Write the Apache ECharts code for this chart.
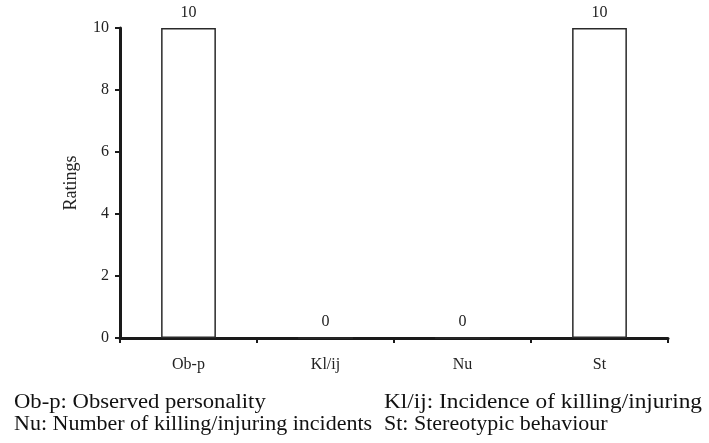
<!DOCTYPE html>
<html><head><meta charset="utf-8">
<script src="https://cdn.jsdelivr.net/npm/echarts@6/dist/echarts.min.js"></script>
<style>html,body{margin:0;padding:0;background:#fff}#c{width:709px;height:443px}</style>
</head><body><div id="c"></div>
<script>
var categories = ['Ob-p', 'Kl/ij', 'Nu', 'St'];
var ratings = [10, 0, 0, 10];
var yTicks = [0, 2, 4, 6, 8, 10];
var notes = [
  ['Ob-p: Observed personality', 'Kl/ij: Incidence of killing/injuring'],
  ['Nu: Number of killing/injuring incidents', 'St: Stereotypic behaviour']
];
var F = '"Liberation Serif", "Times New Roman", serif';
var chart = echarts.init(document.getElementById('c'));
chart.setOption({
  animation: false,
  backgroundColor: '#fff',
  grid: {left: 120, right: 41, top: 28, bottom: 105},
  xAxis: {
    type: 'category', data: categories,
    axisLine: {lineStyle: {color: '#1a1a1a', width: 3}},
    axisTick: {show: true, length: 5, lineStyle: {color: '#1a1a1a', width: 2}},
    axisLabel: {fontFamily: F, fontSize: 16, color: '#222', margin: 19}
  },
  yAxis: {
    type: 'value', min: yTicks[0], max: yTicks[yTicks.length-1], interval: 2,
    name: 'Ratings', nameLocation: 'middle', nameGap: 40, nameRotate: 90,
    nameTextStyle: {fontFamily: F, fontSize: 18, color: '#222'},
    axisLine: {show: true, lineStyle: {color: '#1a1a1a', width: 3}},
    axisTick: {show: true, length: 5, lineStyle: {color: '#1a1a1a', width: 2}},
    axisLabel: {fontFamily: F, fontSize: 16, color: '#222', margin: 11},
    splitLine: {show: false}
  },
  series: [{
    type: 'bar', data: ratings, barWidth: '40%',
    itemStyle: {color: '#fff', borderColor: '#2a2a2a', borderWidth: 1.5},
    label: {show: true, position: 'top', distance: 7, fontFamily: F, fontSize: 16, color: '#222'}
  }],
  graphic: [
    {type: 'text', x: 14, y: 413, scaleX: 1.03, style: {text: notes[0][0], font: '22px ' + F, fill: '#111', verticalAlign: 'bottom'}},
    {type: 'text', x: 384, y: 413, scaleX: 1.06, style: {text: notes[0][1], font: '22px ' + F, fill: '#111', verticalAlign: 'bottom'}},
    {type: 'text', x: 14, y: 435, style: {text: notes[1][0], font: '22px ' + F, fill: '#111', verticalAlign: 'bottom'}},
    {type: 'text', x: 384, y: 435, style: {text: notes[1][1], font: '22px ' + F, fill: '#111', verticalAlign: 'bottom'}}
  ]
});
</script></body></html>
